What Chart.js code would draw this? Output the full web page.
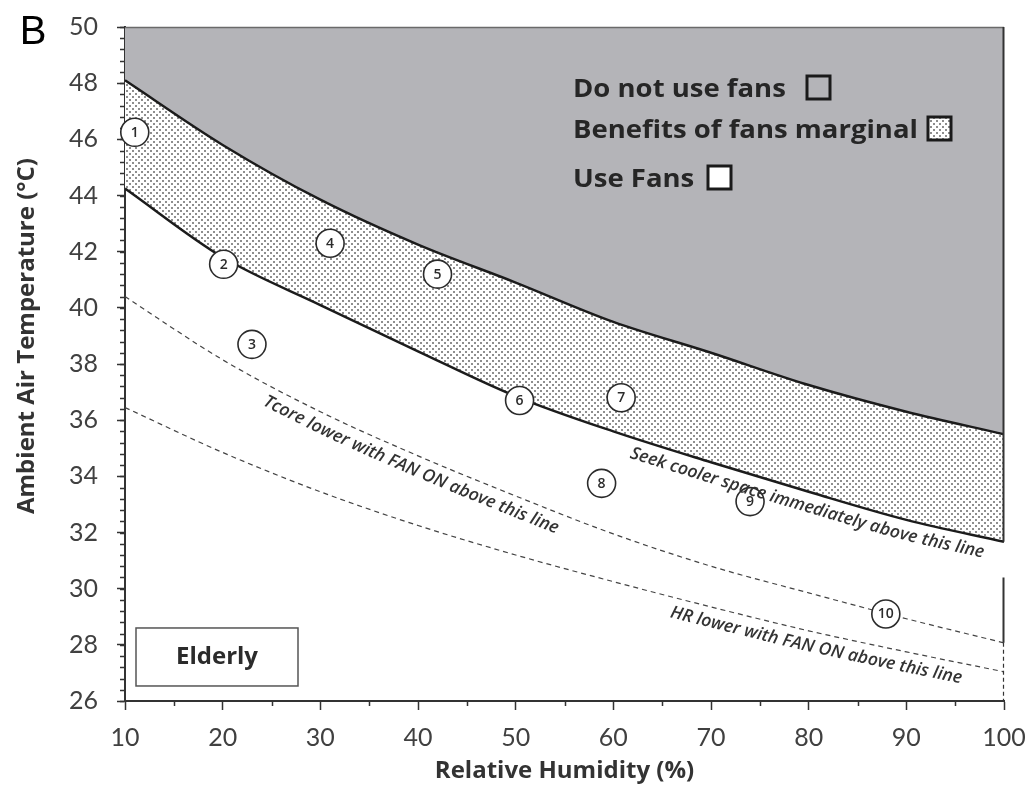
<!DOCTYPE html>
<html>
<head>
<meta charset="utf-8">
<script src="https://cdn.jsdelivr.net/npm/chart.js@4.4.1/dist/chart.umd.min.js"></script>
<style>
  html, body { margin: 0; padding: 0; background: #ffffff; }
  #wrap { width: 1035px; height: 796px; position: relative; }
</style>
</head>
<body>
<div id="wrap"><canvas id="chart" width="1035" height="796"></canvas></div>
<script>
// Relative humidity (%) at which each boundary curve is sampled
const humidity = [10, 20, 30, 40, 50, 60, 70, 80, 90, 100];
// Ambient temperature (°C) of each boundary at those humidities
const doNotUseFans = [48.1, 45.8, 43.85, 42.25, 40.9, 39.5, 38.4, 37.25, 36.3, 35.5];
const seekCoolerSpace = [44.25, 41.8, 40.1, 38.45, 36.85, 35.6, 34.5, 33.45, 32.45, 31.67];
const tcoreLowerWithFan = [40.4, 38.15, 36.3, 34.73, 33.3, 31.95, 30.8, 29.85, 28.93, 28.07];
const hrLowerWithFan = [36.45, 34.85, 33.45, 32.25, 31.2, 30.25, 29.35, 28.5, 27.75, 27.04];

// Numbered heat-wave cases
const caseLabels = ['1', '2', '3', '4', '5', '6', '7', '8', '9', '10'];
const caseHumidity = [11, 20.1, 23, 31, 42, 50.4, 60.8, 58.8, 74, 87.9];
const caseTemperature = [46.25, 41.55, 38.7, 42.3, 41.2, 36.7, 36.8, 33.75, 33.1, 29.1];

// Axis ticks
const xTickValues = [10, 20, 30, 40, 50, 60, 70, 80, 90, 100];
const yTickValues = [26, 28, 30, 32, 34, 36, 38, 40, 42, 44, 46, 48, 50];
const xMinorStep = 5;
const yMinorStep = 0.4;

// Legend entries and curve captions
const legendLabels = ['Do not use fans', 'Benefits of fans marginal', 'Use Fans'];
const curveCaptions = [
  { text: 'Tcore lower with FAN ON above this line', dataset: 2, startRH: 25.0 },
  { text: 'Seek cooler space immediately above this line', dataset: 1, startRH: 62.2 },
  { text: 'HR lower with FAN ON above this line', dataset: 3, startRH: 66.2 }
];

const FONT = 'Lato, "Open Sans", "DejaVu Sans", sans-serif';
const BOLD_FONT = '"Open Sans", Lato, "DejaVu Sans", sans-serif';
const GREY = '#b4b4b8';
const INK = '#2b2b2b';

function toPoints(xs, ys) { return xs.map((x, i) => ({ x: x, y: ys[i] })); }

// Stipple pattern for the "benefits marginal" band
function makeStipple() {
  const c = document.createElement('canvas');
  c.width = 6; c.height = 6;
  const g = c.getContext('2d');
  g.fillStyle = '#ffffff';
  g.fillRect(0, 0, 6, 6);
  g.fillStyle = '#8e8e8e';
  g.fillRect(0, 0, 2, 2);
  g.fillRect(3, 3, 2, 2);
  return document.getElementById('chart').getContext('2d').createPattern(c, 'repeat');
}
const stipple = makeStipple();

// Sample the rendered (bezier) curve of a line dataset in pixel space
function sampleCurve(chart, dsIndex) {
  const pts = chart.getDatasetMeta(dsIndex).data;
  const out = [];
  for (let i = 0; i < pts.length - 1; i++) {
    const p0 = pts[i], p1 = pts[i + 1];
    const c1x = p0.cp2x ?? p0.x, c1y = p0.cp2y ?? p0.y;
    const c2x = p1.cp1x ?? p1.x, c2y = p1.cp1y ?? p1.y;
    for (let k = 0; k < 40; k++) {
      const t = k / 40, u = 1 - t;
      out.push({
        x: u*u*u*p0.x + 3*u*u*t*c1x + 3*u*t*t*c2x + t*t*t*p1.x,
        y: u*u*u*p0.y + 3*u*u*t*c1y + 3*u*t*t*c2y + t*t*t*p1.y
      });
    }
  }
  const last = pts[pts.length - 1];
  out.push({ x: last.x, y: last.y });
  let s = 0;
  out[0].s = 0;
  for (let i = 1; i < out.length; i++) {
    s += Math.hypot(out[i].x - out[i-1].x, out[i].y - out[i-1].y);
    out[i].s = s;
  }
  return out;
}
function pointAt(samples, s) {
  for (let i = 1; i < samples.length; i++) {
    if (samples[i].s >= s) {
      const a = samples[i-1], b = samples[i];
      const f = (s - a.s) / Math.max(1e-6, b.s - a.s);
      return { x: a.x + (b.x - a.x) * f, y: a.y + (b.y - a.y) * f, ang: Math.atan2(b.y - a.y, b.x - a.x) };
    }
  }
  const a = samples[samples.length-2], b = samples[samples.length-1];
  return { x: b.x, y: b.y, ang: Math.atan2(b.y - a.y, b.x - a.x) };
}

// Text drawn with a horizontal stretch factor
function wideText(ctx, text, x, y, stretch) {
  ctx.save();
  ctx.translate(x, y);
  ctx.scale(stretch, 1);
  ctx.fillText(text, 0, 0);
  ctx.restore();
}

const decorations = {
  id: 'decorations',
  beforeDatasetsDraw(chart) {
    const { ctx, chartArea: a, scales: { x, y } } = chart;
    ctx.save();
    // minor tick marks
    ctx.strokeStyle = '#333';
    ctx.lineWidth = 1.5;
    ctx.beginPath();
    for (let v = y.min; v <= y.max + 1e-6; v += yMinorStep) {
      const py = Math.round(y.getPixelForValue(v)) + 0.5;
      ctx.moveTo(a.left - 5, py); ctx.lineTo(a.left, py);
    }
    for (let v = x.min + xMinorStep; v < x.max; v += xMinorStep * 2) {
      const px = Math.round(x.getPixelForValue(v)) + 0.5;
      ctx.moveTo(px, a.bottom); ctx.lineTo(px, a.bottom + 5);
    }
    ctx.stroke();
    ctx.restore();
  },
  afterDatasetsDraw(chart) {
    const { ctx, chartArea: a, scales: { x, y } } = chart;
    ctx.save();
    // frame: top and right edges of the plot
    ctx.strokeStyle = '#6a6a6a';
    ctx.lineWidth = 1.5;
    ctx.beginPath();
    ctx.moveTo(a.left, a.top + 0.5); ctx.lineTo(a.right, a.top + 0.5);
    ctx.stroke();
    const rx = a.right - 0.5;
    ctx.strokeStyle = '#333';
    ctx.lineWidth = 2;
    ctx.beginPath();
    ctx.moveTo(rx, a.top);
    ctx.lineTo(rx, y.getPixelForValue(seekCoolerSpace[seekCoolerSpace.length - 1]));
    ctx.moveTo(rx, y.getPixelForValue(30.4));
    ctx.lineTo(rx, y.getPixelForValue(tcoreLowerWithFan[tcoreLowerWithFan.length - 1]));
    ctx.stroke();
    ctx.setLineDash([4, 3]);
    ctx.lineWidth = 1.2;
    ctx.beginPath();
    ctx.moveTo(rx, y.getPixelForValue(tcoreLowerWithFan[tcoreLowerWithFan.length - 1]));
    ctx.lineTo(rx, a.bottom);
    ctx.stroke();
    ctx.setLineDash([]);

    // case numbers inside the circles
    const meta = chart.getDatasetMeta(4);
    ctx.fillStyle = INK;
    ctx.textAlign = 'center';
    ctx.textBaseline = 'middle';
    ctx.font = '600 14px ' + BOLD_FONT;
    meta.data.forEach((p, i) => ctx.fillText(caseLabels[i], p.x, p.y + 0.5));

    // captions running along the curves
    ctx.font = 'italic 600 17.5px ' + BOLD_FONT;
    ctx.fillStyle = '#333';
    curveCaptions.forEach(cap => {
      const samples = sampleCurve(chart, cap.dataset);
      const sx = x.getPixelForValue(cap.startRH);
      let s = 0;
      for (const p of samples) { if (p.x >= sx) { s = p.s; break; } }
      const off = 15;
      for (const ch of cap.text) {
        const w = ctx.measureText(ch).width;
        const q = pointAt(samples, s + w / 2);
        const nx = -Math.sin(q.ang), ny = Math.cos(q.ang);
        ctx.save();
        ctx.translate(q.x + nx * off, q.y + ny * off);
        ctx.rotate(q.ang);
        ctx.fillText(ch, 0, 0);
        ctx.restore();
        s += w;
      }
    });

    // legend
    const lx = a.left + 448;
    const rows = [a.top + 70, a.top + 111, a.top + 160];
    const boxX = [a.left + 682, a.left + 803, a.left + 583];
    const fills = [GREY, stipple, '#ffffff'];
    ctx.textAlign = 'left';
    ctx.textBaseline = 'alphabetic';
    ctx.font = 'bold 25px ' + BOLD_FONT;
    ctx.fillStyle = '#262626';
    legendLabels.forEach((t, i) => {
      wideText(ctx, t, lx, rows[i], 1.1);
      const bx = boxX[i], by = rows[i] - 21;
      ctx.fillStyle = fills[i];
      ctx.fillRect(bx, by, 23, 23);
      ctx.strokeStyle = '#1a1a1a';
      ctx.lineWidth = 3;
      ctx.strokeRect(bx, by, 23, 23);
      ctx.fillStyle = '#262626';
    });

    // group tag
    const ex = a.left + 11, ey = y.getPixelForValue(28.6);
    ctx.strokeStyle = '#555';
    ctx.lineWidth = 1.5;
    ctx.fillStyle = '#ffffff';
    ctx.fillRect(ex, ey, 162, 58);
    ctx.strokeRect(ex, ey, 162, 58);
    ctx.fillStyle = '#2b2b2b';
    ctx.textAlign = 'center';
    ctx.textBaseline = 'middle';
    ctx.font = 'bold 24px ' + BOLD_FONT;
    ctx.fillText('Elderly', ex + 81, ey + 29);

    // axis titles and panel letter
    ctx.fillStyle = '#333';
    ctx.font = 'bold 24px ' + BOLD_FONT;
    ctx.fillText('Relative Humidity (%)', (a.left + a.right) / 2, 771);
    ctx.save();
    ctx.translate(27, 336);
    ctx.rotate(-Math.PI / 2);
    ctx.fillText('Ambient Air Temperature (\u00B0C)', 0, 0);
    ctx.restore();
    ctx.fillStyle = '#000';
    ctx.font = '40px "Liberation Sans", Arial, sans-serif';
    ctx.fillText('B', 33, 33);
    ctx.restore();
  }
};

new Chart(document.getElementById('chart'), {
  type: 'scatter',
  data: {
    datasets: [
      { data: toPoints(humidity, doNotUseFans), showLine: true, borderColor: '#1c1c1c', borderWidth: 2.5,
        pointRadius: 0, cubicInterpolationMode: 'monotone', fill: 'end', backgroundColor: GREY, order: 2 },
      { data: toPoints(humidity, seekCoolerSpace), showLine: true, borderColor: '#1c1c1c', borderWidth: 2.5,
        pointRadius: 0, cubicInterpolationMode: 'monotone', fill: '-1', backgroundColor: stipple, order: 2 },
      { data: toPoints(humidity, tcoreLowerWithFan), showLine: true, borderColor: '#444', borderWidth: 1.2,
        borderDash: [5, 4], pointRadius: 0, cubicInterpolationMode: 'monotone', fill: false, order: 1 },
      { data: toPoints(humidity, hrLowerWithFan), showLine: true, borderColor: '#444', borderWidth: 1.2,
        borderDash: [5, 4], pointRadius: 0, cubicInterpolationMode: 'monotone', fill: false, order: 1 },
      { data: toPoints(caseHumidity, caseTemperature), showLine: false, pointRadius: 14,
        pointBackgroundColor: '#ffffff', pointBorderColor: '#2b2b2b', pointBorderWidth: 1.6,
        clip: false, order: 0 }
    ]
  },
  options: {
    responsive: false,
    animation: false,
    events: [],
    layout: { autoPadding: false, padding: { top: 27, right: 31, left: 0, bottom: 0 } },
    plugins: { legend: { display: false }, tooltip: { enabled: false } },
    scales: {
      x: {
        type: 'linear', min: 10, max: 100,
        afterBuildTicks: s => { s.ticks = xTickValues.map(v => ({ value: v })); },
        afterFit: s => { s.height = 95; s.paddingLeft = 0; s.paddingRight = 0; },
        grid: { drawOnChartArea: false, drawTicks: true, tickLength: 9, tickColor: '#333', tickWidth: 1.5 },
        border: { display: true, color: '#333', width: 2 },
        ticks: { color: '#404040', font: { family: FONT, size: 25 }, padding: 13, maxRotation: 0 }
      },
      y: {
        type: 'linear', min: 26, max: 50,
        afterBuildTicks: s => { s.ticks = yTickValues.map(v => ({ value: v })); },
        afterFit: s => { s.width = 125; s.paddingTop = 0; s.paddingBottom = 0; },
        grid: { drawOnChartArea: false, drawTicks: true, tickLength: 8, tickColor: '#333', tickWidth: 1.5 },
        border: { display: true, color: '#333', width: 2 },
        ticks: { color: '#404040', font: { family: FONT, size: 25 }, padding: 19 }
      }
    }
  },
  plugins: [decorations]
});
</script>
</body>
</html>
